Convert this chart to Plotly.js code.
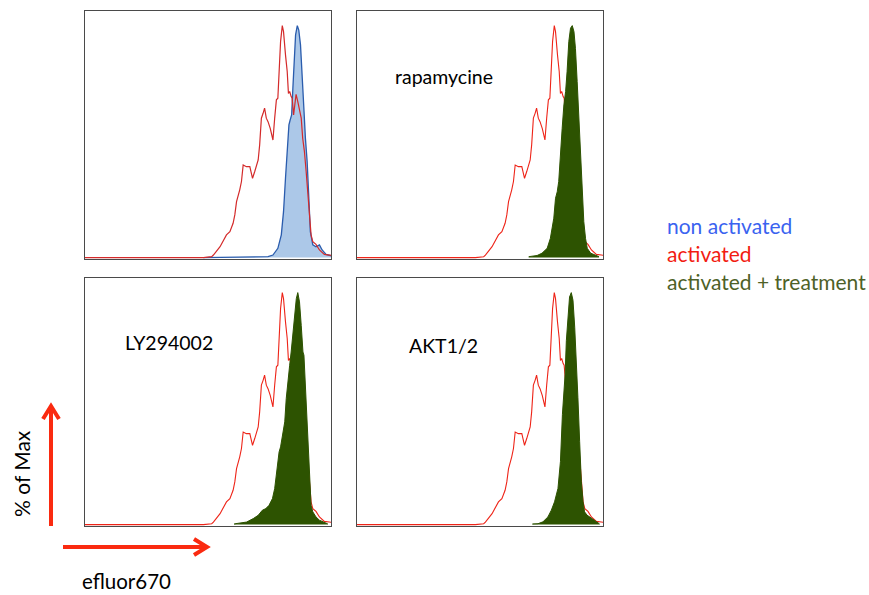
<!DOCTYPE html>
<html>
<head>
<meta charset="utf-8">
<script src="https://cdn.plot.ly/plotly-3.0.1.min.js"></script>
<style>html,body{margin:0;padding:0;background:#fff;}#chart{width:869px;height:595px;}</style>
</head>
<body>
<div id="chart"></div>
<script>
// ---- data (x: relative efluor670 intensity 0-100, y: % of Max) ----
const xActivated = [0,48.1,51.5,52.2,54.9,57.5,58.9,60.2,60.9,61.6,62.9,63.6,64.3,65.0,65.6,67.0,68.1,69.0,70.4,71.0,71.7,72.4,73.0,73.7,74.4,75.3,76.4,77.1,77.8,78.4,78.8,79.5,80.2,80.7,81.5,82.2,82.7,83.2,83.8,84.2,84.8,85.3,85.8,86.5,87.2,87.9,88.5,89.2,89.9,90.6,91.2,91.9,92.6,93.9,95.3,97.3,99.3,100];
const yActivated = [0,0,0.4,1.1,4.7,9.8,11.2,14.8,18.4,24.1,29.2,32.8,39.9,39.5,39.2,39.2,34.2,37.1,42.1,48.6,60.1,62.2,64.4,60.1,58.6,55.7,50.7,60.1,68.0,68.7,80.2,93.1,100,97.4,87.4,80.2,70.8,71.6,69.4,68.7,61.5,67.2,70.4,67.2,62.9,60.1,51.4,45.7,37.1,28.4,18.4,9.8,6.9,5.7,3.3,1.4,1.1,1.0];

const xNonActivated = [48.1,74.4,76.4,78.4,79.8,80.7,81.5,82.3,82.9,83.4,84.0,84.5,85.0,85.6,86.3,86.9,87.6,88.3,88.9,89.6,90.3,91.0,91.6,92.6,93.9,95.3,96.4,98.0,99.3,100];
const yNonActivated = [0,0.4,1.1,4.0,9.8,19.8,34.2,48.6,57.2,59.3,61.5,73.0,85.9,96.0,100,98.1,91.7,80.2,65.8,51.4,41.4,25.6,11.2,5.5,4.7,5.5,3.3,1.4,0.9,0.8];

const xRapamycine = [69.8,73.2,75.2,77.3,78.6,80.0,80.7,81.4,82.0,82.7,83.4,84.1,84.8,85.4,86.1,86.8,87.5,88.2,88.8,89.5,90.2,90.9,91.6,92.2,92.9,93.6,95.0,97.0,98.4];
const yRapamycine = [0.4,0.9,1.9,4.0,8.3,17.0,25.6,28.4,32.8,45.7,55.7,65.8,71.6,80.2,93.1,98.9,100,97.4,90.2,75.9,60.1,44.3,28.4,15.5,8.3,4.0,1.9,0.9,0.4];

const xLY294002 = [60.6,63.0,65.7,68.4,70.4,72.1,73.5,74.8,76.2,77.1,78.1,78.9,79.5,80.2,81.2,81.8,82.5,83.2,83.8,84.5,85.2,85.9,86.5,87.2,87.9,88.6,89.0,89.4,89.9,90.6,91.3,91.9,92.6,93.9,95.3,97.3,98.7];
const yLY294002 = [0.3,0.6,1.1,2.6,4.0,6.2,6.9,8.3,11.2,15.5,24.1,31.3,33.5,38.5,44.3,54.3,62.9,68.7,74.4,81.6,90.2,97.4,100,96.0,85.9,74.4,73.0,64.4,52.9,35.6,18.4,8.3,5.5,3.3,1.9,0.9,0.3];

const xAKT12 = [71.3,73.6,75.6,77.6,79.0,80.3,81.7,82.7,83.5,84.0,84.6,85.1,85.8,86.4,87.1,87.8,88.5,89.2,89.8,90.5,91.2,91.9,92.5,93.5,94.6,95.9,97.3,98.6];
const yAKT12 = [0.3,0.4,1.2,3.3,6.2,9.8,15.6,27.2,47.5,54.7,64.8,79.3,90.9,98.1,100,96.7,85.1,64.8,54.7,35.9,18.5,9.8,5.5,4.1,3.3,2.6,1.2,0.3];

const panelLabels = ["", "rapamycine", "LY294002", "AKT1/2"];
const legendLabels = ["non activated", "activated", "activated + treatment"];
const axisLabelY = "% of Max";
const axisLabelX = "efluor670";

// ---- styling ----
const W = 869, H = 595;
const px = x => x / W, py = y => 1 - y / H;
const FONT = "Lato, 'Open Sans', sans-serif";
const RED = "#ee2418", RED_TL = "#d42a2a";
const BLUE_LINE = "#2a5cad", BLUE_FILL = "rgba(172,200,232,1)";
const GREEN = "#2d5301";

const panels = [
  {xa: "x",  ya: "y",  xd: [px(85), px(331)],  yd: [py(259), py(11)]},
  {xa: "x2", ya: "y2", xd: [px(357), px(603)], yd: [py(259), py(11)]},
  {xa: "x3", ya: "y3", xd: [px(85), px(331)],  yd: [py(526), py(278)]},
  {xa: "x4", ya: "y4", xd: [px(357), px(603)], yd: [py(526), py(278)]}
];

const traces = [];
// panel 1: non activated (filled) + activated
traces.push({x: xNonActivated, y: yNonActivated, xaxis: "x", yaxis: "y", type: "scatter", mode: "lines",
  fill: "tozeroy", fillcolor: BLUE_FILL, line: {color: BLUE_LINE, width: 1.3}, hoverinfo: "skip"});
traces.push({x: xActivated, y: yActivated, xaxis: "x", yaxis: "y", type: "scatter", mode: "lines",
  line: {color: RED_TL, width: 1.2}, hoverinfo: "skip"});

const treat = [[xRapamycine, yRapamycine], [xLY294002, yLY294002], [xAKT12, yAKT12]];
for (let i = 1; i < 4; i++) {
  const p = panels[i];
  traces.push({x: xActivated, y: yActivated, xaxis: p.xa, yaxis: p.ya, type: "scatter", mode: "lines",
    line: {color: RED, width: 1.1}, hoverinfo: "skip"});
  traces.push({x: treat[i-1][0], y: treat[i-1][1], xaxis: p.xa, yaxis: p.ya, type: "scatter", mode: "lines",
    fill: "tozeroy", fillcolor: GREEN, line: {color: GREEN, width: 1}, hoverinfo: "skip"});
}

const layout = {
  width: W, height: H,
  margin: {l: 0, r: 0, t: 0, b: 0},
  paper_bgcolor: "#fff", plot_bgcolor: "#fff",
  showlegend: false,
  font: {family: FONT, color: "#000"},
  annotations: [],
  shapes: []
};

panels.forEach((p, i) => {
  const n = i === 0 ? "" : String(i + 1);
  const ax = {showline: true, mirror: true, linecolor: "#4a4a4a", linewidth: 1,
    showgrid: false, zeroline: false, showticklabels: false, ticks: "", fixedrange: true};
  layout["xaxis" + n] = Object.assign({}, ax, {domain: p.xd, range: [0, 100], anchor: p.ya});
  layout["yaxis" + n] = Object.assign({}, ax, {domain: p.yd, range: [-0.6, 106.3], anchor: p.xa});
});

// panel labels
const labelPos = [null, [393, 76], [123, 342], [407, 345]];
for (let i = 1; i < 4; i++) {
  layout.annotations.push({text: panelLabels[i], xref: "paper", yref: "paper",
    x: px(labelPos[i][0]), y: py(labelPos[i][1]), xanchor: "left", yanchor: "middle",
    showarrow: false, font: {family: FONT, size: 19.5, color: "#000"}});
}
// legend texts
const legColors = ["#3a63f0", "#f21c12", "#4e6127"];
const legY = [225, 253, 281];
legendLabels.forEach((t, i) => {
  layout.annotations.push({text: t, xref: "paper", yref: "paper", x: px(665), y: py(legY[i]),
    xanchor: "left", yanchor: "middle", showarrow: false,
    font: {family: FONT, size: 21, color: legColors[i]}});
});
// axis labels
layout.annotations.push({text: axisLabelY, xref: "paper", yref: "paper", x: px(22), y: py(474),
  xanchor: "center", yanchor: "middle", textangle: -90, showarrow: false,
  font: {family: FONT, size: 21, color: "#000"}});
layout.annotations.push({text: axisLabelX, xref: "paper", yref: "paper", x: px(81), y: py(581),
  xanchor: "left", yanchor: "middle", showarrow: false, borderpad: 0,
  font: {family: FONT, size: 20.5, color: "#000"}});

// arrows
const ARROW = "#fa2a10";
const seg = (x0, y0, x1, y1) => ({type: "line", xref: "paper", yref: "paper",
  x0: px(x0), y0: py(y0), x1: px(x1), y1: py(y1), line: {color: ARROW, width: 4}});
layout.shapes.push(seg(51, 526, 51, 407));
layout.shapes.push({type: "path", xref: "paper", yref: "paper",
  path: `M ${px(43)} ${py(419)} L ${px(51)} ${py(406)} L ${px(59)} ${py(419)}`,
  line: {color: ARROW, width: 4}});
layout.shapes.push(seg(63, 547, 206, 547));
layout.shapes.push({type: "path", xref: "paper", yref: "paper",
  path: `M ${px(194)} ${py(539)} L ${px(207)} ${py(547)} L ${px(194)} ${py(555)}`,
  line: {color: ARROW, width: 4}});

Plotly.newPlot("chart", traces, layout, {staticPlot: true, displayModeBar: false});
</script>
</body>
</html>
